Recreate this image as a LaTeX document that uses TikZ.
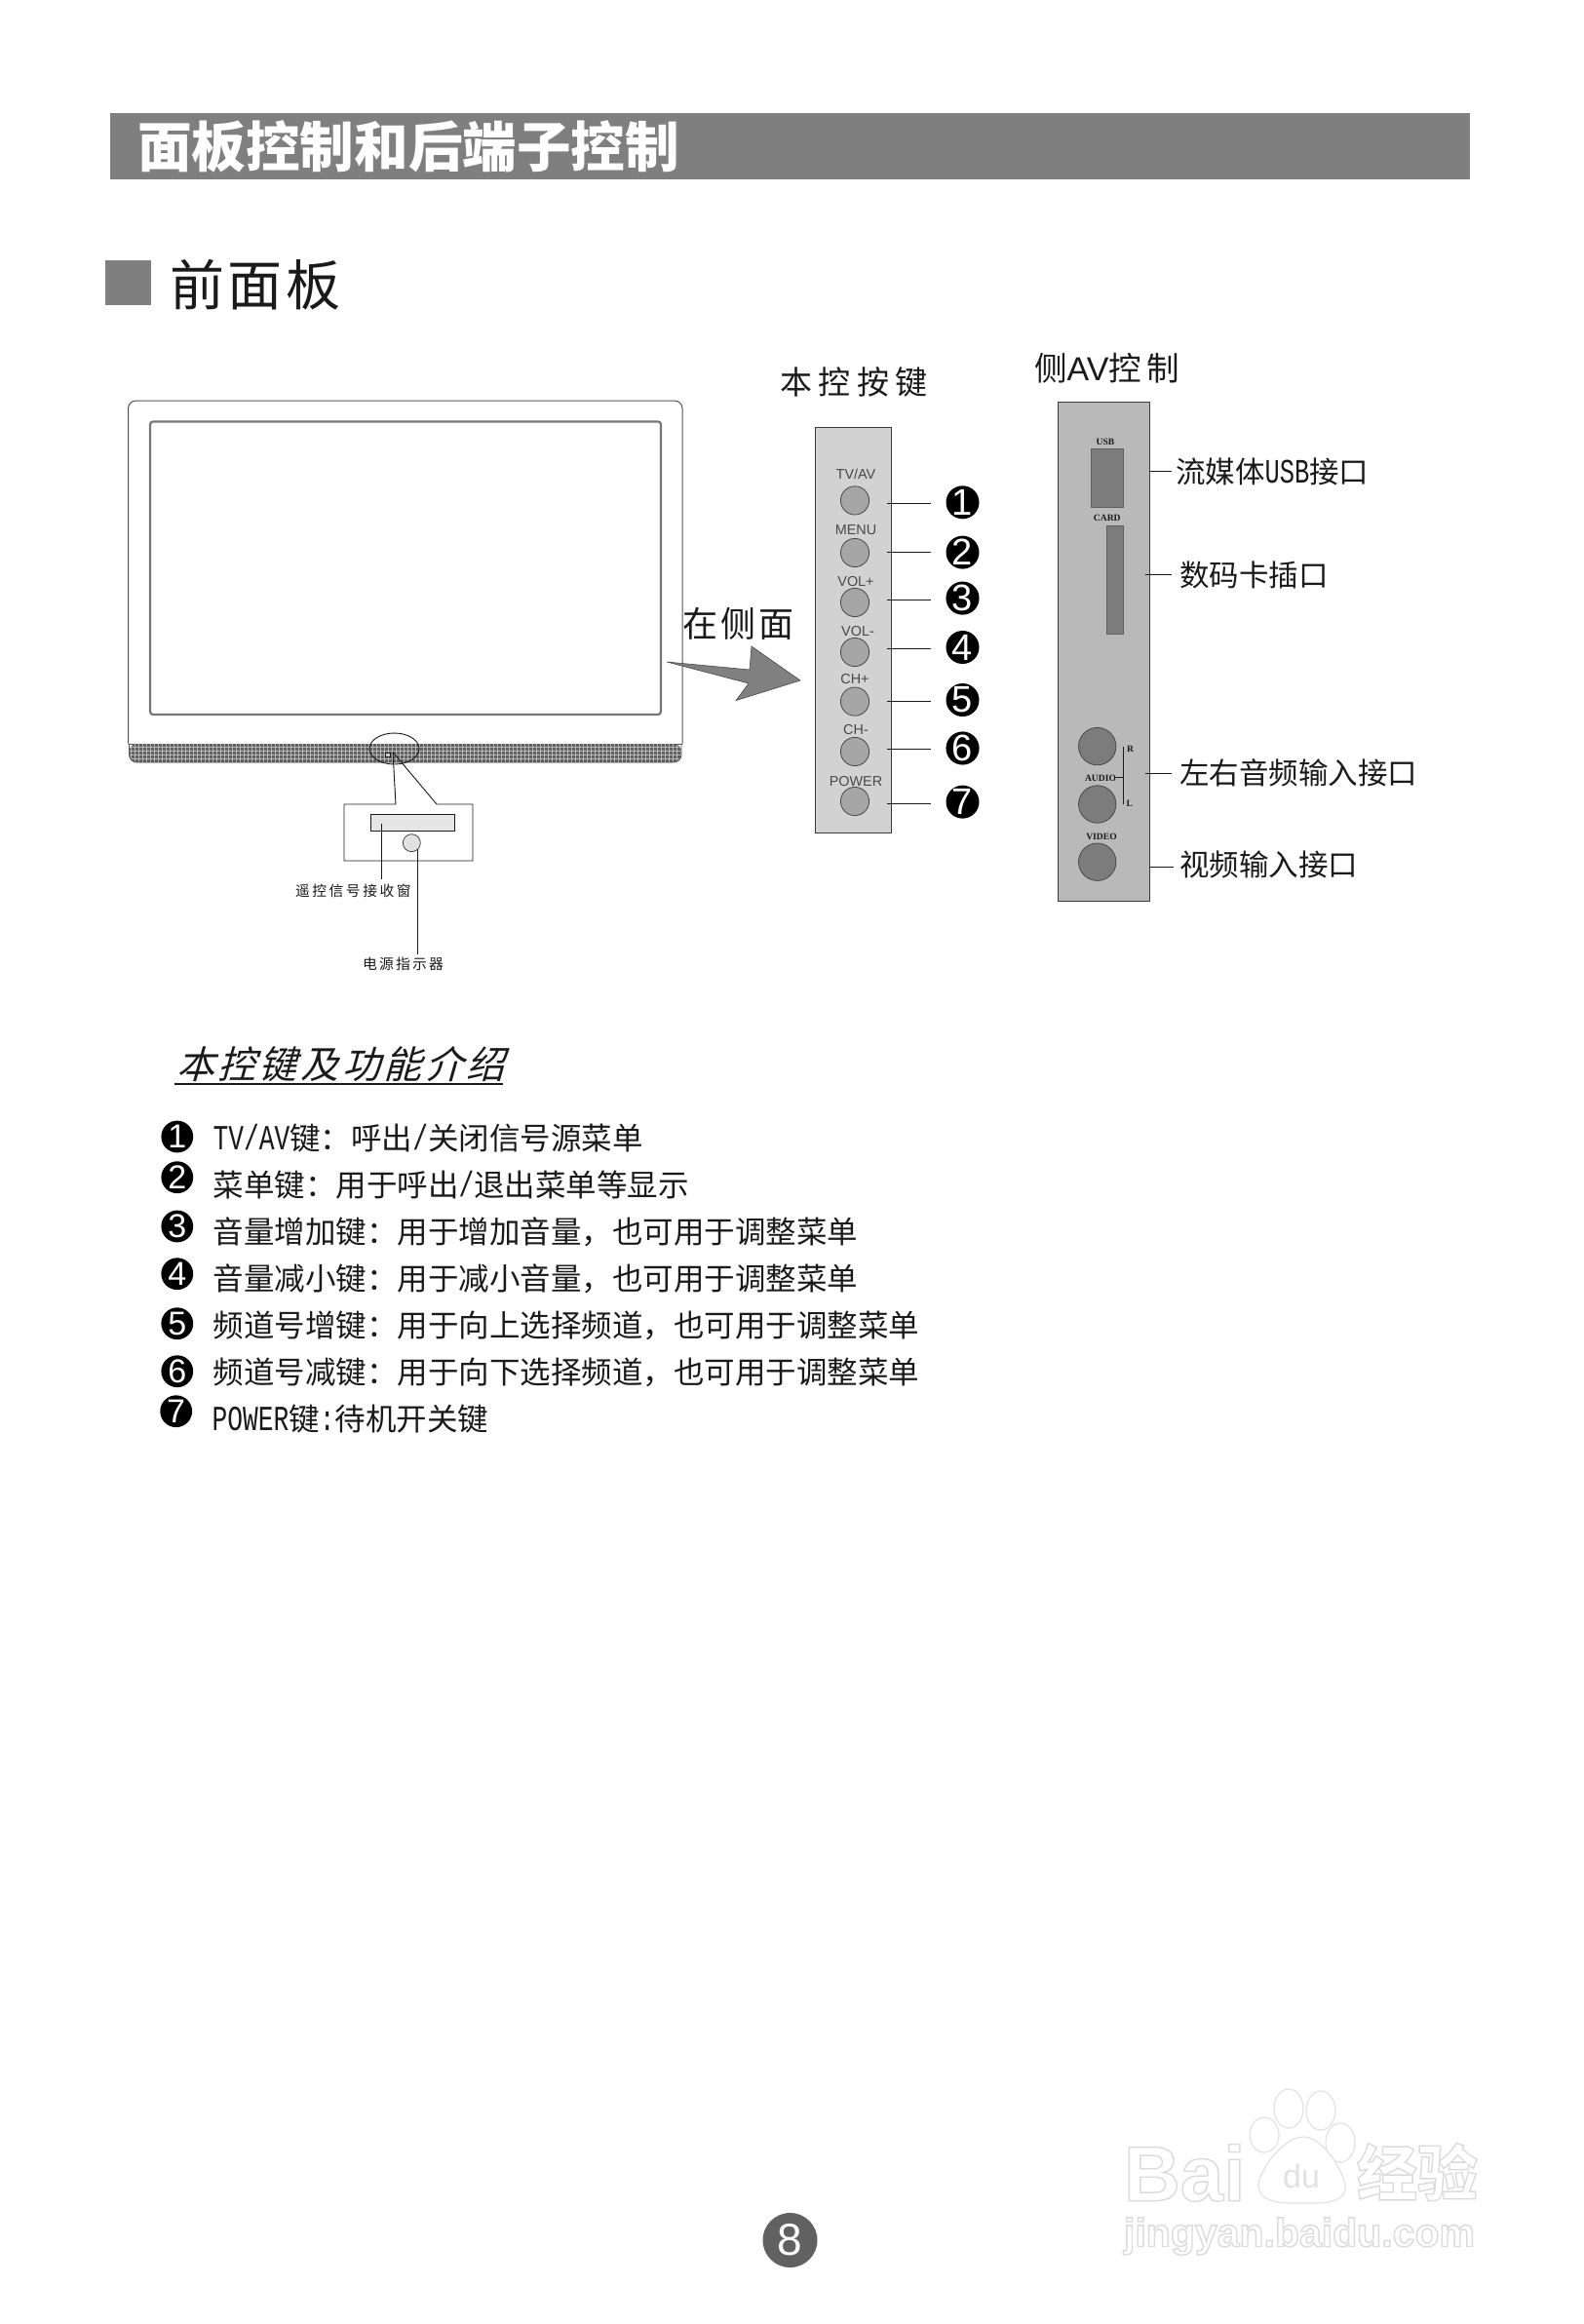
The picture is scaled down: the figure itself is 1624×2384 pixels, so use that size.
\documentclass[tikz,border=0pt]{standalone}
\usepackage{fontspec}
\usetikzlibrary{shapes.geometric}
\setmainfont{Noto Sans CJK SC}
\newfontfamily\hwfont[Scale=1.15,FakeStretch=0.725]{Liberation Mono}
\newfontfamily\lab{Liberation Sans}
\newfontfamily\labser{Liberation Serif}
\newfontfamily\slcjk[FakeSlant=0.28,LetterSpace=9]{Noto Sans CJK SC}
\newcommand\fz[1]{\fontsize{#1}{#1}\selectfont}
\newcommand\hw[1]{{\hwfont #1}}
\newcommand\outl[1]{\special{pdf:code q 1 Tr 0.7 w 0.86 G}#1\special{pdf:code Q}}
\definecolor{hdr}{HTML}{7F7F7F}
\definecolor{pnlA}{HTML}{D2D2D2}
\definecolor{pnlB}{HTML}{B9B9B9}
\definecolor{btnA}{HTML}{A6A6A6}
\definecolor{btnB}{HTML}{7C7C7C}
\definecolor{ink}{HTML}{1A1A1A}
\definecolor{wm}{HTML}{E2E2E2}
\tikzset{
  x=0.5pt,y=-0.5pt,
  every node/.style={inner sep=0pt,outer sep=0pt},
  txt/.style={anchor=west,text=ink},
  lead/.style={draw=ink,line width=0.45pt},
  keybtn/.style={circle,draw=ink!80,line width=0.4pt,fill=btnA,minimum size=14.6pt},
  jack/.style={circle,draw=ink!80,line width=0.4pt,fill=btnB,minimum size=19.2pt},
  numdot/.style={circle,fill=black,minimum size=17pt,text=white,font=\lab\fz{19}},
  listdot/.style={circle,fill=black,minimum size=16.4pt,text=white,font=\lab\fz{17}},
  keylab/.style={text=ink!80,font=\lab\fz{7.2}},
  seriflab/.style={text=ink,font=\labser\bfseries\fz{4.8}},
  listline/.style={txt,font=\fz{15.75}},
  callout/.style={txt,font=\fz{15.25}},
  wmline/.style={draw=wm,line width=0.6pt,fill=white},
}
\begin{document}
\begin{tikzpicture}
\useasboundingbox (0,0) rectangle (1624,2384);
\fill[white] (0,0) rectangle (1624,2384);
% header
\fill[hdr] (113,116) rectangle (1508,184);
\node[anchor=west,text=white,font=\bfseries\fz{27.8}] (title) at (141,150) {面板控制和后端子控制};
\fill[hdr] (108,267) rectangle (155,313);
\node[txt,font=\addfontfeature{LetterSpace=7}\fz{28}] (front) at (174,292) {前面板};
% TV
\draw[draw=ink!75,line width=0.5pt,rounded corners=4pt] (131.5,763) -- (131.5,411) -- (700,411) -- (700,763);
\draw[draw=ink!75,line width=0.5pt] (131.5,763) -- (700,763);
\draw[draw=ink!60,line width=1.1pt,rounded corners=1.5pt] (154,432.5) rectangle (678,733);
\begin{scope}
  \clip[rounded corners=4pt] (132.5,763) -- (132.5,782) -- (699,782) -- (699,763) -- cycle;
  \fill[ink!70] (132,763) rectangle (700,783);
  \foreach \x in {134,138,...,700} \draw[white!72!black,line width=0.3pt] (\x,763) -- (\x,783);
  \foreach \y in {766,770,...,783} \draw[white!72!black,line width=0.3pt] (132,\y) -- (700,\y);
\end{scope}
\draw[ink!75,line width=0.4pt,rounded corners=4pt] (132.5,763) -- (132.5,782) -- (699,782) -- (699,763);
% zoomed detail
\draw[ink,line width=0.45pt] (404.5,768) ellipse [x radius=25.5,y radius=16];
\draw[ink,line width=0.45pt,fill=white!80!black] (395,772) rectangle (400,776);
\coordinate (apex) at (403,771.5);
\coordinate (boxTL) at (353,825);
\coordinate (boxBR) at (485,883);
\coordinate (noteA) at (406,825);
\coordinate (noteB) at (448,825);
\draw[lead] (apex) -- (noteA) -- (boxTL) -- (boxTL |- boxBR) -- (boxBR) -- (boxBR |- boxTL) -- (noteB) -- (apex);
\draw[lead,fill=black!10] (380,835) rectangle (466.5,852.5);
\node[circle,draw=ink!80,line width=0.4pt,fill=black!12,minimum size=9pt] (led) at (422.3,864.7) {};
\node[txt,font=\addfontfeature{LetterSpace=17}\fz{7.4}] (remote) at (303,914) {遥控信号接收窗};
\node[txt,font=\addfontfeature{LetterSpace=15}\fz{7.4}] (power) at (372,989) {电源指示器};
\coordinate (rcvIn) at (391,845);
\coordinate (rcvEnd) at (391,902);
\coordinate (ledIn) at (428.6,871);
\coordinate (ledEnd) at (428.6,979);
\draw[lead] (rcvIn) -- (rcvEnd);
\draw[lead] (ledIn) -- (ledEnd);
% arrow
\draw[draw=ink!80,line width=0.3pt,fill=black!50] (684,679) -- (769,687) -- (771,663) -- (821,698) -- (755,718.6) -- (768,701) -- cycle;
\node[txt,font=\addfontfeature{LetterSpace=9}\fz{18}] (side) at (700,640) {在侧面};
% key panel
\node[txt,font=\addfontfeature{LetterSpace=20}\fz{16.5}] (keyhead) at (800,392) {本控按键};
\draw[draw=ink!85,line width=0.5pt,fill=pnlA] (836.5,438) rectangle (914.5,854);
\foreach \i/\by/\ly/\ln/\lx/\ny/\nm in {
  1/513.4/486.6/516.4/878/515.3/TV\slash AV,
  2/567/543.6/566.6/878/566.6/MENU,
  3/618/596.4/615.6/878/613.6/VOL+,
  4/669/648/665.3/880/664/VOL-,
  5/719.6/696.7/719/877/718/CH+,
  6/771/748.7/768.6/878/767.5/CH-,
  7/822/802/824.5/878/822.6/POWER}{
  \node[keybtn] (btn\i) at (877,\by) {};
  \node[keylab] (blab\i) at (\lx,\ly) {\nm};
  \node[numdot] (num\i) at (987.5,\ny) {\i};
  \coordinate (lin\i) at (909.5,\ln);
  \coordinate (lout\i) at (954.5,\ln);
  \draw[lead] (lin\i) -- (lout\i);
}
% side panel
\node[txt,font=\fz{16.8}] (avhead) at (1061,378) {侧{\lab\fz{17}AV}\addfontfeature{LetterSpace=15}控制};
\draw[draw=ink!85,line width=0.5pt,fill=pnlB] (1085.3,412.3) rectangle (1179.4,924.4);
\draw[draw=ink!70,line width=0.35pt,fill=btnB] (1119.8,460.5) rectangle (1152.4,520);
\draw[draw=ink!70,line width=0.35pt,fill=btnB] (1135,539.4) rectangle (1152.4,650.8);
\node[seriflab] (usb) at (1134,453) {USB};
\node[seriflab] (card) at (1135.8,531) {CARD};
\node[jack] (jackR) at (1125.7,765.6) {};
\node[jack] (jackL) at (1125.7,825) {};
\node[jack] (jackV) at (1125.7,884.2) {};
\node[seriflab] (audio) at (1129,798) {AUDIO};
\node[seriflab] (video) at (1130,858.6) {VIDEO};
\node[seriflab] (rr) at (1159.7,768) {R};
\node[seriflab] (ll) at (1158.8,824.5) {L};
\coordinate (brTop) at (1152,766);
\coordinate (brBot) at (1152,825);
\coordinate (brMid) at (1152,797);
\coordinate (audEnd) at (1145,797);
\draw[lead,line width=0.35pt] (brTop) -- (brBot);
\draw[lead,line width=0.35pt] (brMid) -- (audEnd);
\coordinate (o1) at (1179.4,483.5); \coordinate (p1) at (1202.4,483.5);
\coordinate (o2) at (1175,589.5);   \coordinate (p2) at (1202.4,589.5);
\coordinate (o3) at (1175,793.5);   \coordinate (p3) at (1202.4,793.5);
\coordinate (o4) at (1179.4,889.6); \coordinate (p4) at (1204,889.6);
\draw[lead] (o1) -- (p1); \draw[lead] (o2) -- (p2); \draw[lead] (o3) -- (p3); \draw[lead] (o4) -- (p4);
\node[callout] (c1) at (1206,483.5) {流媒体\hw{USB}接口};
\node[callout] (c2) at (1210,590) {数码卡插口};
\node[callout] (c3) at (1210,793) {左右音频输入接口};
\node[callout] (c4) at (1210,887) {视频输入接口};
% function list
\node[txt,font=\slcjk\fz{19.5}] (ftitle) at (181,1092) {本控键及功能介绍};
\coordinate (ulA) at (178.6,1112);
\coordinate (ulB) at (516,1112);
\draw[ink,line width=0.6pt] (ulA) -- (ulB);
\node[listdot] (d1) at (181.8,1166) {1};
\node[listdot] (d2) at (181.8,1207.7) {2};
\node[listdot] (d3) at (181.8,1258) {3};
\node[listdot] (d4) at (181.8,1306.7) {4};
\node[listdot] (d5) at (181.8,1357.7) {5};
\node[listdot] (d6) at (181.8,1406.7) {6};
\node[listdot] (d7) at (180.7,1447.7) {7};
\node[listline] (t1) at (218.5,1167.5) {\hw{TV/AV}键：呼出\hw{/}关闭信号源菜单};
\node[listline] (t2) at (218.5,1216) {菜单键：用于呼出\hw{/}退出菜单等显示};
\node[listline] (t3) at (218.5,1263.7) {音量增加键：用于增加音量，也可用于调整菜单};
\node[listline] (t4) at (218.5,1311.7) {音量减小键：用于减小音量，也可用于调整菜单};
\node[listline] (t5) at (218.5,1360) {频道号增键：用于向上选择频道，也可用于调整菜单};
\node[listline] (t6) at (218.5,1407.7) {频道号减键：用于向下选择频道，也可用于调整菜单};
\node[listline] (t7) at (217.5,1456) {\hw{POWER}键\hw{:}待机开关键};
% page number
\node[circle,fill=black!62,minimum size=28pt,text=white,font=\lab\fz{23}] (pg) at (810.5,2298) {8};
% watermark
\node[anchor=west,text=white,font=\lab\bfseries\fz{40}] (wmA) at (1153,2229) {\outl{Bai}};
\draw[wmline] (1297,2190) ellipse [x radius=15,y radius=18];
\draw[wmline] (1322,2163) ellipse [x radius=15,y radius=20];
\draw[wmline] (1355,2165) ellipse [x radius=15,y radius=20];
\draw[wmline] (1375,2198) ellipse [x radius=15,y radius=20];
\draw[wmline] (1337,2192) .. controls (1360,2192) and (1382,2235) .. (1380,2245) .. controls (1378,2262) and (1350,2260) .. (1337,2260) .. controls (1322,2260) and (1293,2262) .. (1291,2243) .. controls (1290,2230) and (1315,2192) .. (1337,2192);
\node[text=wm,font=\lab\fz{17}] (wmB) at (1335,2232) {du};
\node[anchor=west,text=white,font=\bfseries\fz{31}] (wmC) at (1392,2228) {\outl{经验}};
\node[anchor=west,text=white,font=\lab\bfseries\fz{20.5}] (wmD) at (1153,2294) {\outl{jingyan.baidu.com}};
\end{tikzpicture}
\end{document}
